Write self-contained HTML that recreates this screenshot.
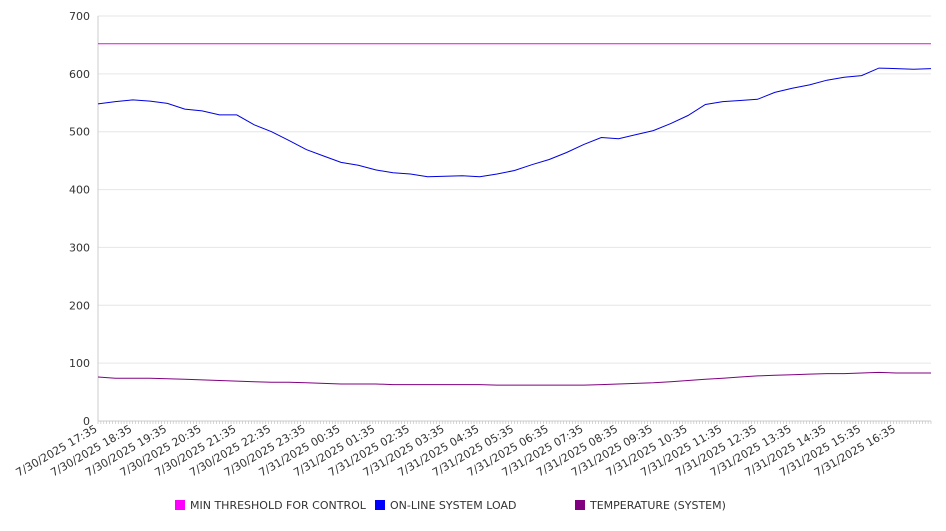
<!DOCTYPE html>
<html><head><meta charset="utf-8"><style>
body{margin:0;background:#fff;font-family:"Liberation Sans","DejaVu Sans",sans-serif}
svg text{font-family:"DejaVu Sans","Liberation Sans",sans-serif;font-size:11px;fill:#333}
</style></head><body>
<svg id="chart" width="946" height="526" xmlns="http://www.w3.org/2000/svg"></svg>
<script>
const yTicks=[0,100,200,300,400,500,600,700];
const xLabels=["7/30/2025 17:35","7/30/2025 18:35","7/30/2025 19:35","7/30/2025 20:35","7/30/2025 21:35","7/30/2025 22:35","7/30/2025 23:35","7/31/2025 00:35","7/31/2025 01:35","7/31/2025 02:35","7/31/2025 03:35","7/31/2025 04:35","7/31/2025 05:35","7/31/2025 06:35","7/31/2025 07:35","7/31/2025 08:35","7/31/2025 09:35","7/31/2025 10:35","7/31/2025 11:35","7/31/2025 12:35","7/31/2025 13:35","7/31/2025 14:35","7/31/2025 15:35","7/31/2025 16:35"];
const threshold=[652,652];
const load=[548,552,555,553,549,539,536,529,529,512,500,485,469,458,447,442,434,429,427,422,423,424,422,427,433,443,452,464,478,490,488,495,502,514,528,547,552,554,556,568,575,581,589,594,597,610,609,608,609];
const temp=[76,74,74,74,73,72,71,70,69,68,67,67,66,65,64,64,64,63,63,63,63,63,63,62,62,62,62,62,62,63,64,65,66,68,70,72,74,76,78,79,80,81,82,82,83,84,83,83,83];
const svg=document.getElementById('chart');const NS='http://www.w3.org/2000/svg';
const X0=98,X1=931,Y0=421,Y1=16;
const y=v=>Y0-(v/700)*(Y0-Y1);
const xh=h=>X0+h/24*(X1-X0);
function mk(t,a,p){const e=document.createElementNS(NS,t);for(const k in a)e.setAttribute(k,a[k]);(p||svg).appendChild(e);return e;}
yTicks.forEach(v=>{
 const g=mk('line',{x1:X0,x2:X1,y1:y(v),y2:y(v),stroke:v?'#e6e6e6':'#ccc'});
 
 
 const t=mk('text',{x:90,y:y(v)+4,'text-anchor':'end'});t.textContent=v;
 
 
});
const ax=mk('line',{x1:X0,x2:X0,y1:Y1,y2:Y0,stroke:'#ccc'});


for(let i=0;i<=288;i++){const xx=X0+i*(X1-X0)/288;const tk=mk('line',{x1:xx,x2:xx,y1:Y0,y2:Y0+3,stroke:'#bbb','stroke-width':0.6});
 
 }
xLabels.forEach((l,i)=>{const xx=xh(i);const t=mk('text',{x:xx,y:Y0+10,'text-anchor':'end',transform:`rotate(-30 ${xx} ${Y0+10})`});t.textContent=l;
 
 });
function series(arr,color,name,w){const n=arr.length-1;const d=arr.map((v,i)=>(i?'L':'M')+xh(i*24/n).toFixed(1)+','+y(v).toFixed(1)).join('');
 const p=mk('path',{d:d,fill:'none',stroke:color,'stroke-width':w});
 
 }
series(threshold,'#e010e0','min-threshold-line',1);
series(load,'#0000e0','online-system-load-line',1);
series(temp,'#800080','temperature-line',1);
const leg=[["MIN THRESHOLD FOR CONTROL","#ff00ff",175],["ON-LINE SYSTEM LOAD","#0000ff",375],["TEMPERATURE (SYSTEM)","#800080",575]];
leg.forEach(([l,c,x])=>{const r=mk('rect',{x:x,y:500,width:10,height:10,fill:c});
 
 
 const t=mk('text',{x:x+15,y:509});t.textContent=l;
 
 });
</script>
</body></html>
